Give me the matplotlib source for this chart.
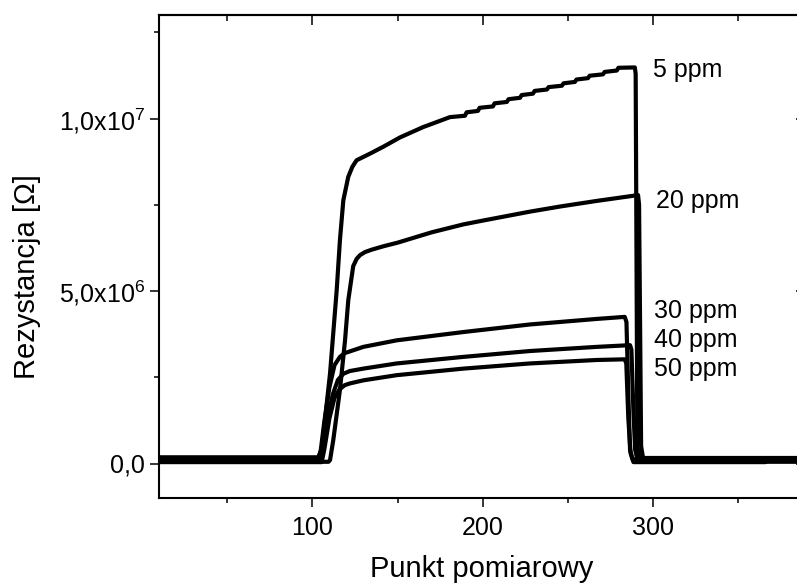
import numpy as np
import matplotlib
matplotlib.use("Agg")
import matplotlib.pyplot as plt
from matplotlib.ticker import MultipleLocator, FixedLocator

# ---- measurement data (resistance in units of 1e6 Ohm) ----
labels = ["5 ppm", "20 ppm", "30 ppm", "40 ppm", "50 ppm"]

# 5 ppm: response onset and smooth rise
x5_rise = [10, 103.5, 105.5, 110.4, 114.3, 116.2, 118.2, 121.1, 123.5, 126.0, 133.8,
           141.6, 151.4, 165.0, 180.8]
y5_rise = [0.18, 0.18, 0.4, 2.61, 5.02, 6.47, 7.63, 8.31, 8.60, 8.79, 8.98,
           9.18, 9.45, 9.75, 10.04]
# 5 ppm: quantised plateau (level at each step start, value just before each jump)
x5_jumps = [189.6, 197.2, 206.0, 214.2, 221.9, 229.5, 237.7, 246.5, 254.1, 261.8, 270.6, 278.7]
y5_levels = [10.04, 10.18, 10.31, 10.44, 10.56, 10.68, 10.80, 10.91, 11.02, 11.13, 11.24, 11.35, 11.47]
y5_tread_end = [10.08, 10.22, 10.35, 10.48, 10.60, 10.72, 10.84, 10.95, 11.06, 11.17, 11.28, 11.39]
# 5 ppm: recovery
x5_fall = [289.3, 289.8, 290.8, 292.0, 389]
y5_fall = [11.48, 11.3, 0.5, 0.16, 0.16]

x20 = [10, 109.5, 110.4, 112.3, 116.2, 119.2, 121.1, 124.0, 126.0, 128.0, 131.0, 135.0,
       142.0, 150.0, 170.0, 188.6, 200.0, 227.7, 245.6, 266.8, 291.2, 291.8, 293.0, 294.5, 389]
y20 = [0.05, 0.05, 0.1, 0.68, 2.13, 3.57, 4.73, 5.72, 5.93, 6.04, 6.13, 6.20,
       6.30, 6.40, 6.70, 6.93, 7.04, 7.30, 7.45, 7.61, 7.78, 7.5, 0.5, 0.05, 0.05]

x30 = [10, 103.5, 105, 107, 110, 113, 116.2, 119, 122.1, 129.9, 149.5, 188.6, 227.7, 266.8,
       283.4, 284.4, 285.5, 286.5, 288, 316]
y30 = [0.12, 0.12, 0.4, 1.2, 2.2, 2.85, 3.09, 3.2, 3.25, 3.38, 3.57, 3.81, 4.03, 4.19,
       4.25, 4.1, 2.0, 0.4, 0.12, 0.12]

x40 = [10, 104.5, 106, 109, 112, 115, 118.2, 122, 129.9, 149.5, 188.6, 227.7, 266.8,
       286.5, 287.3, 288.5, 289.5, 291, 389]
y40 = [0.08, 0.08, 0.4, 1.3, 2.0, 2.42, 2.6, 2.68, 2.75, 2.90, 3.09, 3.26, 3.38,
       3.43, 3.3, 1.5, 0.4, 0.08, 0.08]

x50 = [10, 105.5, 107, 110, 113, 116, 119, 122, 129.9, 149.5, 188.6, 227.7, 266.8,
       283.4, 284.3, 285.5, 286.8, 288.5, 366]
y50 = [0.04, 0.04, 0.4, 1.3, 1.9, 2.15, 2.27, 2.32, 2.41, 2.56, 2.75, 2.90, 3.00,
       3.02, 2.9, 1.3, 0.3, 0.04, 0.04]

# label anchor points (x, baseline y in 1e6 Ohm)
label_x = [299.9, 301.6, 300.4, 300.4, 300.4]
label_y = [11.2, 7.40, 4.21, 3.37, 2.53]

x_ticks = [100, 200, 300]
y_ticks = [0, 5e6, 1e7]
y_ticklabels = ["0,0", r"5,0x10$^{6}$", r"1,0x10$^{7}$"]

plt.rcParams['font.family'] = ['Liberation Sans', 'DejaVu Sans']
plt.rcParams['mathtext.default'] = 'regular'

# build the 5 ppm trace: smooth rise, stepped plateau, fall
JUMP_W = 1.0
sx, sy = [], []
for xj, yt, ya in zip(x5_jumps, y5_tread_end, y5_levels[1:]):
    sx += [xj, xj + JUMP_W]
    sy += [yt, ya]
x5 = np.array(x5_rise + sx + x5_fall)
y5 = np.array(y5_rise + sy + y5_fall)

series = [
    (x5, y5),
    (np.array(x20), np.array(y20)),
    (np.array(x30), np.array(y30)),
    (np.array(x40), np.array(y40)),
    (np.array(x50), np.array(y50)),
]

fig = plt.figure(figsize=(7.97, 5.85), dpi=100)
ax = fig.add_axes([159 / 797, 1 - 498 / 585, (805 - 159) / 797, (498 - 15) / 585])

for xs, ys in series:
    ax.plot(xs, ys * 1e6, color='black', lw=3.0, solid_joinstyle='round',
            solid_capstyle='round')

for lab, lx, ly in zip(labels, label_x, label_y):
    ax.text(lx, ly * 1e6, lab, fontsize=18, ha='left', va='baseline')

ax.set_xlim(10, 389.2)
ax.set_ylim(-1e6, 1.3e7)

ax.xaxis.set_major_locator(FixedLocator(x_ticks))
ax.xaxis.set_minor_locator(MultipleLocator(50))
ax.yaxis.set_major_locator(FixedLocator(y_ticks))
ax.set_yticklabels(y_ticklabels)
ax.yaxis.set_minor_locator(MultipleLocator(2.5e6))

for s in ax.spines.values():
    s.set_linewidth(1.5)

ax.tick_params(which='major', direction='out', length=6.5, width=1.1, labelsize=18)
ax.tick_params(which='minor', direction='out', length=3.5, width=1.1)
ax.tick_params(axis='x', which='major', pad=6.5)
ax.tick_params(axis='y', which='major', pad=3.5)

# mirrored inward ticks on the top and right edges
top = ax.secondary_xaxis('top')
top.xaxis.set_major_locator(FixedLocator(x_ticks))
top.xaxis.set_minor_locator(MultipleLocator(50))
top.tick_params(which='major', direction='in', length=7, width=1.1, labeltop=False)
top.tick_params(which='minor', direction='in', length=4.2, width=1.1)
top.spines['top'].set_linewidth(1.5)

right = ax.secondary_yaxis('right')
right.yaxis.set_major_locator(FixedLocator(y_ticks))
right.yaxis.set_minor_locator(MultipleLocator(2.5e6))
right.tick_params(which='major', direction='in', length=6.5, width=1.1, labelright=False)
right.tick_params(which='minor', direction='in', length=4.5, width=1.1)

ax.set_xlabel("Punkt pomiarowy", fontsize=21, labelpad=11)
ax.set_ylabel("Rezystancja [Ω]", fontsize=21)
ax.yaxis.set_label_coords(-0.183, 0.4576)

fig.savefig("out.png", dpi=100)
